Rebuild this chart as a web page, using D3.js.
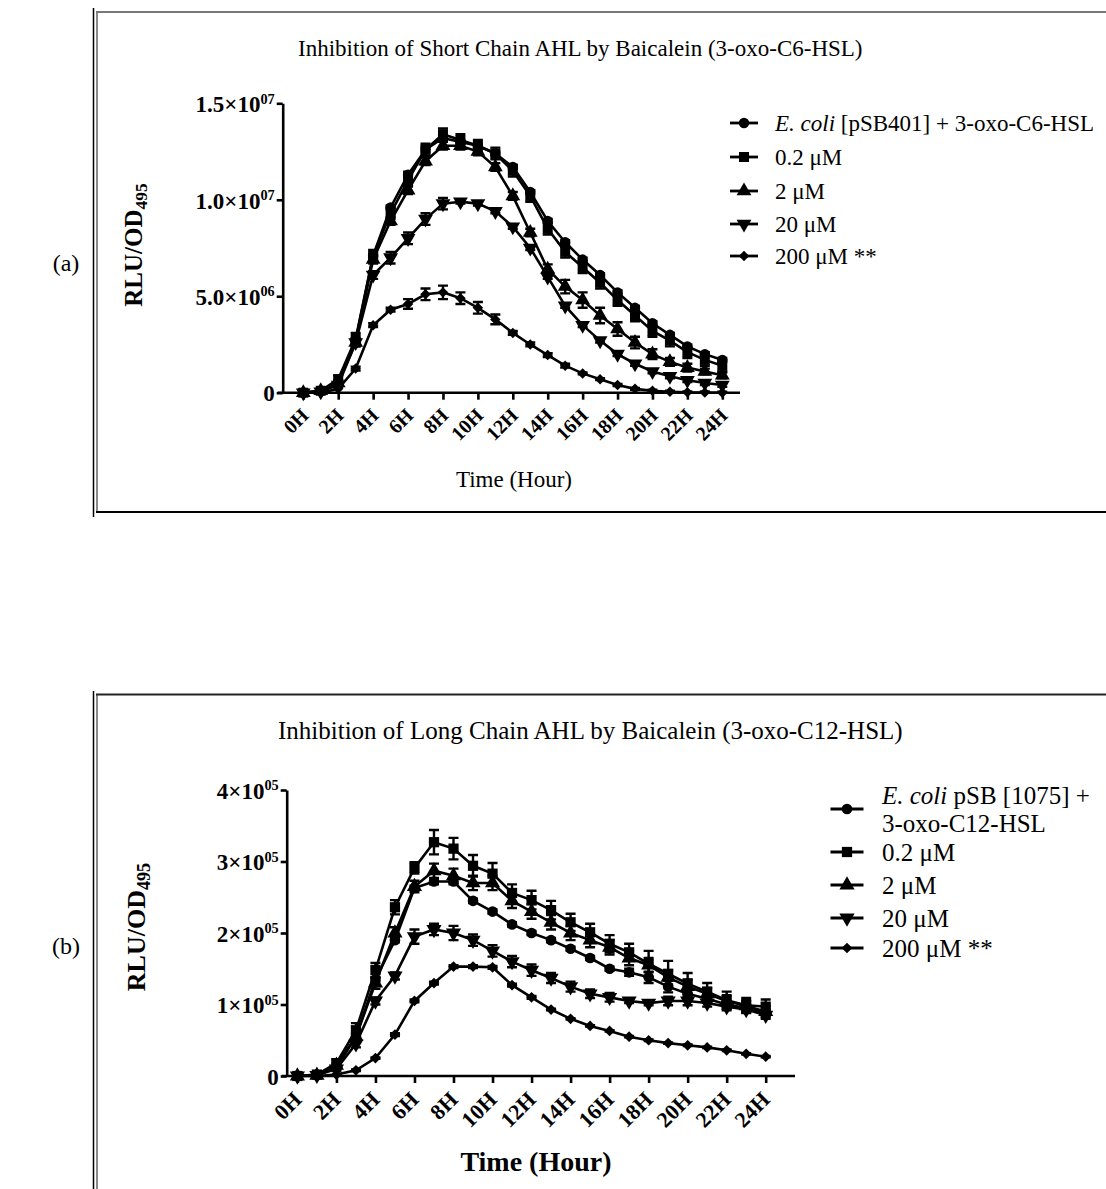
<!DOCTYPE html>
<meta charset="utf-8">
<style>
    body { margin: 0; background: #fff; }
    svg { font-family: "Liberation Serif", "Times New Roman", serif; }
    .axis path, .axis line { stroke: #000; stroke-width: 2.6px; }
    .line { fill: none; stroke: #000; stroke-width: 2.6px; }
    .err { stroke: #000; stroke-width: 2.4px; fill: none; }
</style>
<svg width="1106" height="1189"></svg>
<script src="https://cdn.jsdelivr.net/npm/d3@7/dist/d3.min.js"></script>
<script>

    // time points (hours) and axis labels
    var hours = [0,1,2,3,4,5,6,7,8,9,10,11,12,13,14,15,16,17,18,19,20,21,22,23,24];
    var tickHours = [0,2,4,6,8,10,12,14,16,18,20,22,24];
    var tickLabels = ["0H","2H","4H","6H","8H","10H","12H","14H","16H","18H","20H","22H","24H"];

    // (a) short chain, 3-oxo-C6-HSL, values in RLU/OD495
    var shortCtrl = [0,0.1e6,0.6e6,2.7e6,7.1e6,9.6e6,11.3e6,12.6e6,13.2e6,13.0e6,12.8e6,12.4e6,11.7e6,10.4e6,8.9e6,7.8e6,6.9e6,6.1e6,5.2e6,4.4e6,3.6e6,3.0e6,2.4e6,2.0e6,1.7e6];
    var short02  = [0,0.1e6,0.7e6,2.8e6,7.1e6,9.3e6,11.0e6,12.6e6,13.4e6,13.1e6,12.8e6,12.4e6,11.5e6,10.2e6,8.5e6,7.3e6,6.5e6,5.7e6,4.8e6,4.0e6,3.2e6,2.7e6,2.1e6,1.7e6,1.4e6];
    var short2   = [0,0.1e6,0.5e6,2.6e6,6.9e6,8.9e6,10.5e6,12.0e6,12.8e6,12.8e6,12.5e6,11.7e6,10.2e6,8.3e6,6.4e6,5.5e6,4.8e6,4.0e6,3.3e6,2.6e6,2.0e6,1.6e6,1.3e6,1.1e6,0.9e6];
    var short20  = [0,0.05e6,0.4e6,2.6e6,6.1e6,7.0e6,8.0e6,9.0e6,9.8e6,9.9e6,9.8e6,9.4e6,8.6e6,7.5e6,6.0e6,4.5e6,3.5e6,2.7e6,2.0e6,1.5e6,1.1e6,0.85e6,0.65e6,0.5e6,0.4e6];
    var short200 = [0,0,0.2e6,1.25e6,3.5e6,4.3e6,4.6e6,5.1e6,5.2e6,4.9e6,4.4e6,3.8e6,3.1e6,2.5e6,1.95e6,1.4e6,1.0e6,0.7e6,0.4e6,0.2e6,0.1e6,0.05e6,0.02e6,0.01e6,0];
    var shortCtrlErr = [0,0,0.05e6,0.1e6,0.1e6,0.1e6,0.15e6,0.15e6,0.15e6,0.1e6,0.1e6,0.1e6,0.1e6,0.1e6,0.1e6,0.1e6,0.1e6,0.1e6,0.1e6,0.1e6,0.1e6,0.1e6,0.1e6,0.1e6,0.1e6];
    var short02Err  = [0,0.05e6,0.2e6,0.3e6,0.3e6,0.3e6,0.3e6,0.3e6,0.3e6,0.3e6,0.3e6,0.3e6,0.3e6,0.3e6,0.3e6,0.3e6,0.3e6,0.3e6,0.3e6,0.3e6,0.3e6,0.3e6,0.3e6,0.3e6,0.3e6];
    var short2Err   = [0,0,0.1e6,0.2e6,0.2e6,0.2e6,0.2e6,0.2e6,0.2e6,0.2e6,0.2e6,0.2e6,0.2e6,0.2e6,0.25e6,0.35e6,0.4e6,0.4e6,0.35e6,0.3e6,0.25e6,0.2e6,0.2e6,0.15e6,0.15e6];
    var short20Err  = [0,0,0.1e6,0.2e6,0.2e6,0.3e6,0.3e6,0.3e6,0.3e6,0.1e6,0.1e6,0.1e6,0.1e6,0.1e6,0.1e6,0.1e6,0.1e6,0.1e6,0.1e6,0.1e6,0.1e6,0.1e6,0.1e6,0.1e6,0.1e6];
    var short200Err = [0,0,0,0.1e6,0.1e6,0.1e6,0.25e6,0.3e6,0.35e6,0.3e6,0.3e6,0.25e6,0.1e6,0.1e6,0.1e6,0.1e6,0.05e6,0.05e6,0.05e6,0.05e6,0.05e6,0.05e6,0.05e6,0.05e6,0.05e6];

    // (b) long chain, 3-oxo-C12-HSL
    var longCtrl = [0,0.01e5,0.12e5,0.55e5,1.35e5,1.9e5,2.63e5,2.72e5,2.72e5,2.45e5,2.3e5,2.12e5,2.0e5,1.9e5,1.78e5,1.65e5,1.5e5,1.45e5,1.38e5,1.25e5,1.15e5,1.08e5,1.0e5,0.95e5,0.88e5];
    var long02  = [0,0.02e5,0.18e5,0.64e5,1.48e5,2.36e5,2.91e5,3.27e5,3.18e5,2.94e5,2.83e5,2.56e5,2.46e5,2.32e5,2.15e5,2.01e5,1.85e5,1.73e5,1.57e5,1.43e5,1.29e5,1.18e5,1.06e5,0.99e5,0.97e5];
    var long2   = [0,0.01e5,0.15e5,0.55e5,1.3e5,2.0e5,2.65e5,2.87e5,2.8e5,2.7e5,2.7e5,2.45e5,2.3e5,2.15e5,2.0e5,1.9e5,1.8e5,1.65e5,1.55e5,1.38e5,1.25e5,1.15e5,1.05e5,0.98e5,0.9e5];
    var long20  = [0,0.01e5,0.1e5,0.45e5,1.05e5,1.4e5,1.95e5,2.05e5,2.0e5,1.9e5,1.75e5,1.6e5,1.48e5,1.37e5,1.25e5,1.15e5,1.1e5,1.05e5,1.02e5,1.05e5,1.05e5,1.02e5,0.97e5,0.93e5,0.85e5];
    var long200 = [0,0,0.02e5,0.08e5,0.25e5,0.58e5,1.05e5,1.3e5,1.53e5,1.53e5,1.52e5,1.27e5,1.1e5,0.93e5,0.8e5,0.7e5,0.63e5,0.55e5,0.5e5,0.46e5,0.43e5,0.4e5,0.36e5,0.31e5,0.27e5];
    var longCtrlErr = [0,0,0.02e5,0.03e5,0.03e5,0.03e5,0.03e5,0.04e5,0.04e5,0.03e5,0.03e5,0.03e5,0.03e5,0.03e5,0.03e5,0.03e5,0.03e5,0.05e5,0.08e5,0.08e5,0.06e5,0.05e5,0.05e5,0.05e5,0.05e5];
    var long02Err  = [0,0,0.05e5,0.1e5,0.1e5,0.1e5,0.08e5,0.17e5,0.15e5,0.15e5,0.15e5,0.12e5,0.13e5,0.13e5,0.12e5,0.12e5,0.12e5,0.12e5,0.18e5,0.18e5,0.15e5,0.12e5,0.12e5,0.1e5,0.1e5];
    var long2Err   = [0,0,0.03e5,0.05e5,0.08e5,0.08e5,0.08e5,0.1e5,0.1e5,0.1e5,0.1e5,0.1e5,0.1e5,0.1e5,0.1e5,0.1e5,0.1e5,0.1e5,0.1e5,0.1e5,0.1e5,0.08e5,0.08e5,0.08e5,0.08e5];
    var long20Err  = [0,0,0.03e5,0.05e5,0.05e5,0.05e5,0.1e5,0.08e5,0.1e5,0.08e5,0.08e5,0.08e5,0.08e5,0.07e5,0.07e5,0.06e5,0.06e5,0.03e5,0.03e5,0.06e5,0.06e5,0.05e5,0.05e5,0.05e5,0.05e5];
    var long200Err = [0,0,0,0.01e5,0.01e5,0.02e5,0.02e5,0.02e5,0.02e5,0.02e5,0.02e5,0.02e5,0.02e5,0.01e5,0.01e5,0.01e5,0.01e5,0.01e5,0.01e5,0.01e5,0.01e5,0.01e5,0.01e5,0.01e5,0.01e5];

    var shortTicks = [0, 5e6, 1e7, 1.5e7];
    var shortTickText = [["0",""], ["5.0\u00d710","06"], ["1.0\u00d710","07"], ["1.5\u00d710","07"]];
    var longTicks = [0, 1e5, 2e5, 3e5, 4e5];
    var longTickText = [["0",""], ["1\u00d710","05"], ["2\u00d710","05"], ["3\u00d710","05"], ["4\u00d710","05"]];

    var shapes = ["circle", "square", "up", "down", "diamond"];
    var doses = ["0.2 \u03bcM", "2 \u03bcM", "20 \u03bcM", "200 \u03bcM **"];

    var svg = d3.select("svg");

    function symbolPath(shape, size) {
        if (shape == "circle") return d3.symbol(d3.symbolCircle, size * 0.85)();
        if (shape == "square") return d3.symbol(d3.symbolSquare, size)();
        if (shape == "diamond") return d3.symbol(d3.symbolSquare, size * 0.55)();
        return d3.symbol(d3.symbolTriangle, size * 0.95)();
    }
    function symbolRot(shape) {
        if (shape == "down") return "rotate(180)";
        if (shape == "diamond") return "rotate(45)";
        return "";
    }

    // frame round each panel
    function frame(top, bottom, outerTop, outerBottom, topColor, bottomColor) {
        svg.append("line").attr("x1", 93.5).attr("x2", 93.5).attr("y1", outerTop).attr("y2", outerBottom)
            .attr("stroke", "#000").attr("stroke-width", 1.5);
        svg.append("line").attr("x1", 97).attr("x2", 97).attr("y1", top).attr("y2", bottom)
            .attr("stroke", "#8a8a8a").attr("stroke-width", 2);
        svg.append("line").attr("x1", 96).attr("x2", 1106).attr("y1", top).attr("y2", top)
            .attr("stroke", topColor).attr("stroke-width", 2);
        svg.append("line").attr("x1", 96).attr("x2", 1106).attr("y1", bottom).attr("y2", bottom)
            .attr("stroke", bottomColor).attr("stroke-width", 2);
    }

    function drawChart(c) {
        var g = svg.append("g");
        var x = d3.scaleLinear().domain(c.xDomain).range(c.xRange),
            y = d3.scaleLinear().domain(c.yDomain).range(c.yRange);

        // x axis
        var xAxis = g.append("g").attr("class", "axis")
            .attr("transform", "translate(0," + c.yRange[0] + ")")
            .call(d3.axisBottom(x).tickValues(tickHours).tickSize(7).tickSizeOuter(0).tickFormat(function(d, i) { return tickLabels[i]; }));
        xAxis.select(".domain").attr("d", "M" + (c.yAxisX - 5) + ",0H" + c.xAxisEnd);
        xAxis.selectAll("text")
            .attr("text-anchor", "end")
            .attr("x", null).attr("y", null).attr("dy", null)
            .attr("transform", "translate(" + c.xLabDx + "," + c.xLabDy + ") rotate(-45)")
            .style("font", "bold " + c.xTickFont + "px 'Liberation Serif'")
            .attr("fill", "#000");

        // y axis
        var yAxis = g.append("g").attr("class", "axis")
            .attr("transform", "translate(" + c.yAxisX + ",0)")
            .call(d3.axisLeft(y).tickValues(c.yTicks).tickSize(6).tickSizeOuter(0));
        yAxis.selectAll("text").each(function(d, i) {
            var t = d3.select(this).text(null)
                .attr("x", -8).attr("dy", "0.36em")
                .style("font", "bold " + c.yTickFont + "px 'Liberation Serif'")
                .attr("fill", "#000");
            t.append("tspan").text(c.yTickText[i][0]);
            if (c.yTickText[i][1]) t.append("tspan").attr("dy", "-0.6em").style("font-size", (c.yTickFont * 0.62) + "px").text(c.yTickText[i][1]);
        });

        var line = d3.line().x(function(d) { return x(d.h); }).y(function(d) { return y(d.v); });

        c.series.forEach(function(s) {
            var pts = hours.map(function(h, i) { return {h: h, v: s.values[i], e: s.err[i]}; });
            var sg = g.append("g");
            sg.selectAll(".err").data(pts.filter(function(d) { return d.e > 0; })).enter().append("path")
                .attr("class", "err")
                .attr("d", function(d) {
                    var px = x(d.h), y0 = y(Math.max(0, d.v - d.e)), y1 = y(d.v + d.e);
                    return "M" + px + "," + y0 + "V" + y1 + "M" + (px - 5) + "," + y1 + "H" + (px + 5) +
                        "M" + (px - 5) + "," + y0 + "H" + (px + 5);
                });
            sg.append("path").attr("class", "line").attr("d", line(pts));
            sg.selectAll(".pt").data(pts).enter().append("path")
                .attr("d", symbolPath(s.shape, c.markSize))
                .attr("transform", function(d) { return "translate(" + x(d.h) + "," + y(d.v) + ") " + symbolRot(s.shape); })
                .attr("fill", "#000");
        });

        // legend
        var lg = g.append("g");
        c.legend.forEach(function(l, i) {
            var row = lg.append("g").attr("transform", "translate(" + c.legX + "," + l.y + ")");
            row.append("line").attr("x1", -c.legLine).attr("x2", c.legLine).attr("stroke", "#000").attr("stroke-width", 2.8);
            row.append("path").attr("d", symbolPath(shapes[i], c.markSize)).attr("transform", symbolRot(shapes[i])).attr("fill", "#000");
            l.lines.forEach(function(parts, j) {
                var t = row.append("text").attr("x", c.legTextX - c.legX).attr("y", l.textY[j] - l.y)
                    .attr("dy", "0.35em").style("font-size", c.legFont + "px");
                parts.forEach(function(p) {
                    t.append("tspan").style("font-style", p[1] ? "italic" : null).text(p[0]);
                });
            });
        });

        // titles
        svg.append("text").attr("x", c.titleX).attr("y", c.titleY).style("font-size", c.titleFont + "px").text(c.title);
        var yl = svg.append("text")
            .attr("transform", "translate(" + c.yTitleX + "," + c.yTitleY + ") rotate(-90)")
            .attr("text-anchor", "middle")
            .style("font", "bold " + c.yTitleFont + "px 'Liberation Serif'");
        yl.append("tspan").text("RLU/OD");
        yl.append("tspan").attr("dy", "0.3em").style("font-size", (c.yTitleFont * 0.7) + "px").text("495");
        svg.append("text").attr("x", c.xTitleX).attr("y", c.xTitleY).attr("text-anchor", "middle")
            .style("font-size", c.xTitleFont + "px").style("font-weight", c.xTitleBold ? "bold" : null)
            .text("Time (Hour)");
        svg.append("text").attr("x", 66).attr("y", c.panelY).attr("text-anchor", "middle").style("font-size", "24px").text(c.panel);
    }

    frame(12, 512, 8, 517, "#777", "#000");
    frame(694.5, 1200, 691, 1189, "#222", "#000");

    drawChart({
        xDomain: [0, 24], xRange: [303.3, 722.3], yAxisX: 282.7, xAxisEnd: 740,
        yDomain: [0, 1.5e7], yRange: [392.7, 103.3], yTicks: shortTicks, yTickText: shortTickText,
        xLabDx: 6, xLabDy: 24, xTickFont: 20, yTickFont: 23, markSize: 100,
        series: [
            {shape: "circle", values: shortCtrl, err: shortCtrlErr},
            {shape: "square", values: short02, err: short02Err},
            {shape: "up", values: short2, err: short2Err},
            {shape: "down", values: short20, err: short20Err},
            {shape: "diamond", values: short200, err: short200Err}
        ],
        legX: 744, legLine: 14, legTextX: 775, legFont: 23,
        legend: [
            {y: 123, textY: [123], lines: [[["E. coli", true], [" [pSB401] + 3-oxo-C6-HSL", false]]]},
            {y: 157, textY: [157], lines: [[[doses[0], false]]]},
            {y: 191, textY: [191], lines: [[[doses[1], false]]]},
            {y: 224, textY: [224], lines: [[[doses[2], false]]]},
            {y: 256, textY: [256], lines: [[[doses[3], false]]]}
        ],
        title: "Inhibition of Short Chain AHL by Baicalein (3-oxo-C6-HSL)", titleX: 298, titleY: 56, titleFont: 23,
        yTitleX: 142, yTitleY: 245, yTitleFont: 25,
        xTitleX: 514, xTitleY: 487, xTitleFont: 23, xTitleBold: false,
        panel: "(a)", panelY: 271
    });

    drawChart({
        xDomain: [0, 24], xRange: [297.4, 765.7], yAxisX: 286.7, xAxisEnd: 795,
        yDomain: [0, 4e5], yRange: [1076, 790], yTicks: longTicks, yTickText: longTickText,
        xLabDx: 5, xLabDy: 25, xTickFont: 22, yTickFont: 23, markSize: 105,
        series: [
            {shape: "circle", values: longCtrl, err: longCtrlErr},
            {shape: "square", values: long02, err: long02Err},
            {shape: "up", values: long2, err: long2Err},
            {shape: "down", values: long20, err: long20Err},
            {shape: "diamond", values: long200, err: long200Err}
        ],
        legX: 847, legLine: 16.5, legTextX: 882, legFont: 25,
        legend: [
            {y: 809, textY: [795, 823], lines: [[["E. coli", true], [" pSB [1075] +", false]], [["3-oxo-C12-HSL", false]]]},
            {y: 852, textY: [852], lines: [[[doses[0], false]]]},
            {y: 885, textY: [885], lines: [[[doses[1], false]]]},
            {y: 918, textY: [918], lines: [[[doses[2], false]]]},
            {y: 948, textY: [948], lines: [[[doses[3], false]]]}
        ],
        title: "Inhibition of Long Chain AHL by Baicalein (3-oxo-C12-HSL)", titleX: 278, titleY: 739, titleFont: 25,
        yTitleX: 145, yTitleY: 927, yTitleFont: 26,
        xTitleX: 536, xTitleY: 1171, xTitleFont: 28, xTitleBold: true,
        panel: "(b)", panelY: 954
    });

</script>
